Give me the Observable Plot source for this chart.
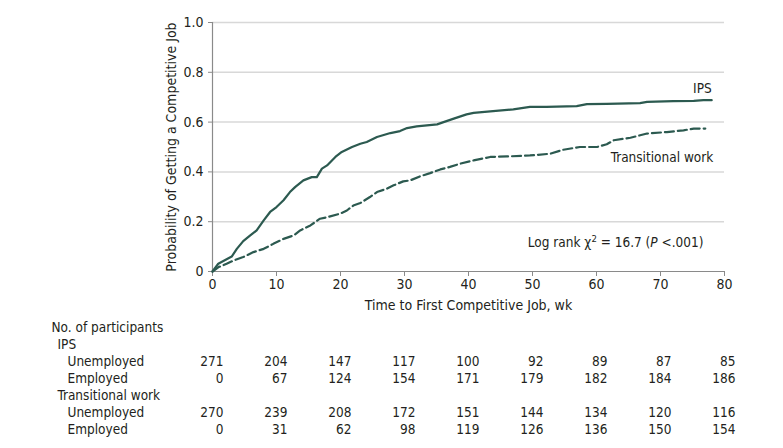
<!DOCTYPE html>
<html><head><meta charset="utf-8">
<script src="https://cdn.jsdelivr.net/npm/d3@7"></script>
<script src="https://cdn.jsdelivr.net/npm/@observablehq/plot@0.6"></script>
<style>
body{margin:0;background:#fff;}
#chart svg{display:block;}
</style>
</head><body><div id="chart"></div>
<script>
// ---- data ----
const ipsWeeks = [0,0.9,3.0,3.8,4.8,5.9,6.9,8.0,9.0,10.0,11.1,12.1,12.9,14.2,15.5,16.3,17.1,17.9,19.2,20.2,21.8,23.1,24.1,25.7,27.8,29.3,30.4,31.9,33.5,35.1,36.1,37.7,39.7,40.8,43.4,47.0,49.6,52.2,56.9,58.5,61.6,66.8,67.9,72.0,75.2,76.7,78.0];
const ipsProb  = [0,0.031,0.060,0.091,0.122,0.145,0.165,0.205,0.239,0.259,0.286,0.319,0.339,0.366,0.379,0.379,0.413,0.426,0.460,0.480,0.500,0.513,0.520,0.540,0.556,0.564,0.576,0.583,0.587,0.591,0.600,0.614,0.631,0.637,0.643,0.651,0.661,0.661,0.664,0.672,0.673,0.676,0.681,0.684,0.685,0.688,0.688];
const twWeeks  = [0,0.9,2.2,3.3,4.8,6.4,8.0,9.5,11.1,12.7,13.7,15.3,16.8,17.9,19.9,21.0,22.0,23.1,24.6,25.7,27.2,28.3,29.8,30.9,32.4,34.0,35.6,37.1,38.7,40.8,43.4,46.0,49.6,52.8,54.8,57.4,60.1,61.6,62.7,65.3,67.9,71.0,73.6,75.2,77.0];
const twProb   = [0,0.017,0.031,0.044,0.058,0.078,0.091,0.111,0.131,0.145,0.165,0.185,0.212,0.218,0.232,0.245,0.265,0.275,0.299,0.319,0.332,0.346,0.362,0.366,0.382,0.395,0.410,0.420,0.433,0.446,0.460,0.462,0.466,0.473,0.489,0.500,0.500,0.511,0.527,0.537,0.554,0.560,0.567,0.574,0.574];
const xTicks = [0,10,20,30,40,50,60,70,80];
const yTicks = [0,0.2,0.4,0.6,0.8,1.0];
const riskWeeks = [0,10,20,30,40,50,60,70,80];
const ipsUnemployed = [271,204,147,117,100,92,89,87,85];
const ipsEmployed   = [0,67,124,154,171,179,182,184,186];
const twUnemployed  = [270,239,208,172,151,144,134,120,116];
const twEmployed    = [0,31,62,98,119,126,136,150,154];
const rowIds    = ["head","ips","ipsU","ipsE","tw","twU","twE"];
const rowLabels = ["No. of participants","IPS","Unemployed","Employed","Transitional work","Unemployed","Employed"];
const rowLevels = [0,1,2,2,1,2,2];
const statText = "Log rank χ2 = 16.7 (P <.001)";

// ---- build ----
const FONT = '"Liberation Sans Narrow","DejaVu Sans Condensed","Roboto Condensed","Liberation Sans",sans-serif';
const FS = "13.5px";
const ink = "#2c5a50";
const txt = "#231f20";
const axisGray = "#8a8a8a";
const ips = ipsWeeks.map((w,i)=>({week:w, p:ipsProb[i]}));
const tw  = twWeeks.map((w,i)=>({week:w, p:twProb[i]}));

const main = Plot.plot({
  width:783, height:312, marginLeft:212, marginRight:59, marginTop:22, marginBottom:41,
  style:{fontFamily:FONT, fontSize:FS, color:txt, background:"#fff", overflow:"visible"},
  x:{domain:[0,80]},
  y:{domain:[0,1]},
  marks:[
    Plot.gridY(yTicks.filter(d=>d>0), {stroke:"#d8d8d8", strokeOpacity:1, strokeWidth:1.5}),
    Plot.axisY(yTicks, {tickFormat:d=> d===0 ? "0" : d.toFixed(1), tickSize:4, tickPadding:5, stroke:axisGray, fontSize:14,
      label:"Probability of Getting a Competitive Job", labelAnchor:"center", labelArrow:"none", labelOffset:46}),
    Plot.axisX(xTicks, {tickSize:5, tickPadding:3, stroke:axisGray, fontSize:14,
      label:"Time to First Competitive Job, wk", labelAnchor:"center", labelArrow:"none", labelOffset:38}),
    Plot.ruleY([0], {stroke:axisGray, strokeWidth:1.2}),
    Plot.ruleX([0], {stroke:axisGray, strokeWidth:1.2}),
    Plot.line(ips, {x:"week", y:"p", stroke:ink, strokeWidth:2.2}),
    Plot.line(tw, {x:"week", y:"p", stroke:ink, strokeWidth:2.2, strokeDasharray:"9,4"}),
    Plot.text(ips, Plot.selectLast({x:"week", y:"p", text:()=>"IPS", textAnchor:"end", dy:-12, fill:txt})),
    Plot.text(tw, Plot.selectLast({x:"week", y:"p", text:()=>"Transitional work", textAnchor:"end", dx:8, dy:29, fill:txt})),
    Plot.text([statText], {frameAnchor:"bottom-right", textAnchor:"end", dx:-21, dy:-25, fill:txt})
  ]
});

// rich formatting for the log-rank annotation
main.querySelectorAll("text").forEach(t=>{
  if (t.textContent === statText) {
    t.innerHTML = 'Log rank χ<tspan dy="-5" font-size="9.5">2</tspan><tspan dy="5"> = 16.7 (</tspan><tspan font-style="italic">P</tspan><tspan> &lt;.001)</tspan>';
  }
});

const cells = [];
[ipsUnemployed, ipsEmployed, twUnemployed, twEmployed].forEach((arr,k)=>{
  const row = ["ipsU","ipsE","twU","twE"][k];
  arr.forEach((v,i)=>cells.push({week:riskWeeks[i], row, n:v}));
});
const labels = rowIds.map((r,i)=>({row:r, label:rowLabels[i], level:rowLevels[i]}));
const indent = [-161,-155,-145];

const table = Plot.plot({
  width:783, height:136, marginLeft:212, marginRight:59, marginTop:13, marginBottom:18,
  style:{fontFamily:FONT, fontSize:FS, color:txt, background:"#fff", overflow:"visible"},
  x:{domain:[0,80], axis:null},
  y:{type:"point", domain:rowIds, padding:0, axis:null},
  marks:[
    Plot.text(cells, {x:"week", y:"row", text:"n", textAnchor:"end", dx:11, fill:txt}),
    ...[0,1,2].map(l=>Plot.text(labels.filter(d=>d.level===l), {y:"row", text:"label", frameAnchor:"left", textAnchor:"start", dx:indent[l], fill:txt}))
  ]
});

document.getElementById("chart").append(main, table);
</script>
</body></html>
